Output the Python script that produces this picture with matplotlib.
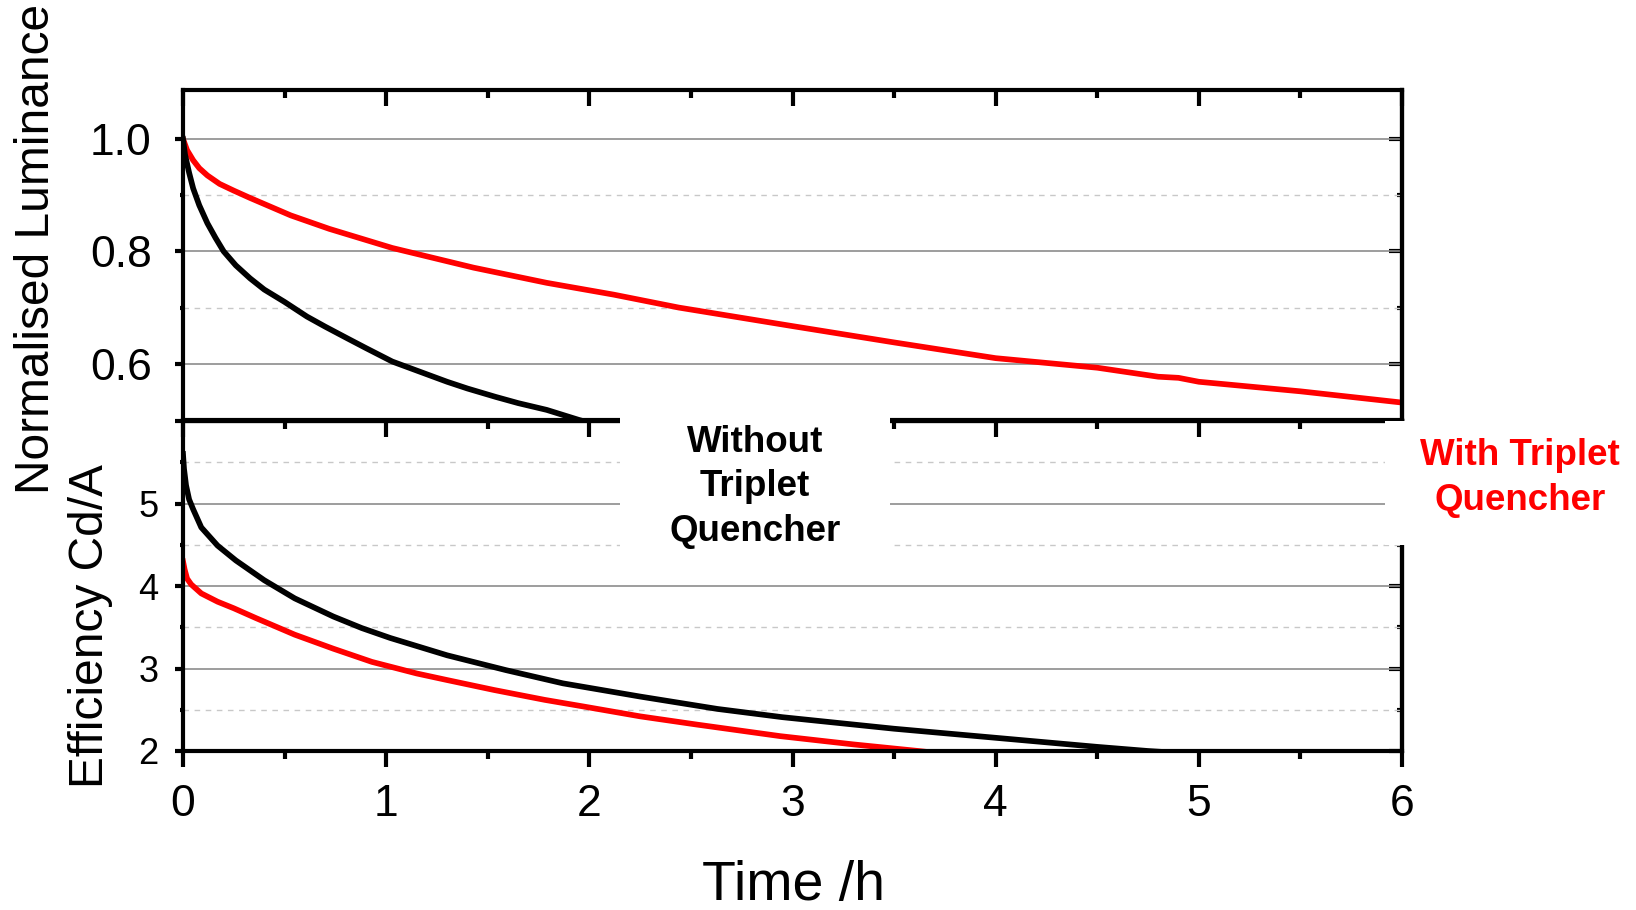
import numpy as np
import matplotlib
matplotlib.use('Agg')
import matplotlib.pyplot as plt
from matplotlib.patches import Rectangle
from matplotlib.ticker import MultipleLocator, FixedLocator

plt.rcParams['font.family'] = ['Liberation Sans', 'DejaVu Sans']

# Luminance decay (normalised) vs time in hours
t_lum_red = [0, 0.02, 0.05, 0.08, 0.12, 0.18, 0.25, 0.33, 0.53, 0.72, 1.03, 1.43, 1.79,
             2.12, 2.44, 3.0, 3.5, 4.0, 4.5, 4.8, 4.9, 5.0, 5.5, 6.0]
lum_red = [1.0, 0.98, 0.962, 0.948, 0.935, 0.92, 0.908, 0.895, 0.864, 0.84, 0.806, 0.771, 0.744,
           0.723, 0.70, 0.667, 0.638, 0.61, 0.593, 0.577, 0.575, 0.568, 0.551, 0.531]

t_lum_black = [0, 0.01, 0.03, 0.05, 0.08, 0.12, 0.16, 0.2, 0.26, 0.33, 0.4, 0.5, 0.61, 0.7,
               0.81, 0.9, 1.03, 1.15, 1.30, 1.4, 1.54, 1.65, 1.79, 1.95, 2.2]
lum_black = [1.0, 0.972, 0.94, 0.912, 0.882, 0.85, 0.824, 0.80, 0.775, 0.752, 0.732, 0.71, 0.684,
             0.666, 0.645, 0.628, 0.604, 0.588, 0.568, 0.556, 0.541, 0.53, 0.518, 0.50, 0.475]

# Current efficiency (Cd/A) vs time in hours
t_eff_black = [0, 0.005, 0.015, 0.03, 0.05, 0.09, 0.17, 0.26, 0.40, 0.55, 0.74, 0.88, 1.02,
               1.30, 1.59, 1.87, 2.25, 2.63, 2.95, 3.5, 4.0, 4.5, 4.75, 5.2]
eff_black = [5.6, 5.42, 5.22, 5.05, 4.93, 4.71, 4.49, 4.31, 4.07, 3.85, 3.63, 3.49, 3.37,
             3.16, 2.98, 2.82, 2.66, 2.51, 2.41, 2.27, 2.16, 2.05, 2.0, 1.93]

t_eff_red = [0, 0.008, 0.02, 0.04, 0.09, 0.17, 0.25, 0.36, 0.55, 0.74, 0.93, 1.15, 1.30, 1.53,
             1.78, 1.97, 2.25, 2.53, 2.94, 3.3, 3.62, 4.0]
eff_red = [4.3, 4.2, 4.09, 4.02, 3.91, 3.81, 3.73, 3.61, 3.41, 3.24, 3.08, 2.94, 2.86, 2.74,
           2.62, 2.54, 2.42, 2.32, 2.18, 2.08, 2.0, 1.9]

W, H = 1636, 910


def fx(px):
    return px / W


def fy(py):
    return 1 - py / H


fig = plt.figure(figsize=(W / 100, H / 100), dpi=100)

left, right = 183, 1402
ax_top = fig.add_axes([fx(left), fy(420), (right - left) / W, 330 / H])
ax_bot = fig.add_axes([fx(left), fy(751), (right - left) / W, 330 / H], sharex=ax_top)

spine_w = 3.0
tick_w = 3.0
line_w = 4.1

for ax in (ax_top, ax_bot):
    ax.set_xlim(0, 6)
    ax.xaxis.set_major_locator(MultipleLocator(1))
    ax.xaxis.set_minor_locator(MultipleLocator(0.5))
    for s in ax.spines.values():
        s.set_linewidth(spine_w)
    ax.set_axisbelow(True)
    ax.yaxis.grid(True, which='major', color='#8c8c8c', lw=1.2, ls='-')
    ax.yaxis.grid(True, which='minor', color='#c8c8c8', lw=1.0, ls=(0, (4, 4)))
    ax.tick_params(axis='y', which='both', left=True, right=False, direction='out', width=tick_w)
    ax.tick_params(axis='y', which='major', length=5.5)
    ax.tick_params(axis='y', which='minor', length=2.5)

# upper panel: luminance
ax_top.plot(t_lum_red, lum_red, color='#ff0000', lw=line_w, solid_joinstyle='round')
ax_top.plot(t_lum_black, lum_black, color='black', lw=line_w, solid_joinstyle='round')
ax_top.set_ylim(0.5, 1.087)
ax_top.yaxis.set_major_locator(FixedLocator([0.6, 0.8, 1.0]))
ax_top.yaxis.set_minor_locator(FixedLocator([0.7, 0.9]))
ax_top.set_yticklabels(['0.6', '0.8', '1.0'])
ax_top.tick_params(axis='y', which='major', labelsize=32, pad=17)
ax_top.tick_params(axis='x', which='both', top=True, bottom=False, labelbottom=False,
                   direction='in', width=tick_w)
ax_top.tick_params(axis='x', which='major', length=11.5)
ax_top.tick_params(axis='x', which='minor', length=5.8)

r_top = ax_top.secondary_yaxis('right')
r_top.yaxis.set_major_locator(FixedLocator([0.6, 0.8, 1.0]))
r_top.yaxis.set_minor_locator(FixedLocator([0.7, 0.9]))
r_top.tick_params(which='both', direction='in', labelright=False, width=tick_w)
r_top.tick_params(which='major', length=9.4)
r_top.tick_params(which='minor', length=3.6)
r_top.spines['right'].set_linewidth(spine_w)

# lower panel: efficiency
ax_bot.plot(t_eff_black, eff_black, color='black', lw=line_w, solid_joinstyle='round')
ax_bot.plot(t_eff_red, eff_red, color='#ff0000', lw=line_w, solid_joinstyle='round')
ax_bot.set_ylim(2, 6)
ax_bot.yaxis.set_major_locator(FixedLocator([2, 3, 4, 5, 6]))
ax_bot.yaxis.set_minor_locator(FixedLocator([2.5, 3.5, 4.5, 5.5]))
ax_bot.set_yticklabels(['2', '3', '4', '5', ''])
ax_bot.tick_params(axis='y', which='major', labelsize=26, pad=12)
ax_bot.tick_params(axis='x', which='both', direction='out', width=tick_w)
ax_bot.tick_params(axis='x', which='major', length=11.5, labelsize=32, pad=12)
ax_bot.tick_params(axis='x', which='minor', length=5.8)

t_bot = ax_bot.secondary_xaxis('top')
t_bot.xaxis.set_major_locator(MultipleLocator(1))
t_bot.xaxis.set_minor_locator(MultipleLocator(0.5))
t_bot.tick_params(which='both', direction='in', labeltop=False, width=tick_w)
t_bot.tick_params(which='major', length=11.5)
t_bot.tick_params(which='minor', length=5.8)
t_bot.spines['top'].set_linewidth(spine_w)

r_bot = ax_bot.secondary_yaxis('right')
r_bot.yaxis.set_major_locator(FixedLocator([2, 3, 4, 5, 6]))
r_bot.yaxis.set_minor_locator(FixedLocator([2.5, 3.5, 4.5, 5.5]))
r_bot.tick_params(which='both', direction='in', labelright=False, width=tick_w)
r_bot.tick_params(which='major', length=9.4)
r_bot.tick_params(which='minor', length=3.6)
r_bot.spines['right'].set_linewidth(spine_w)

# axis titles
fig.text(fx(37), fy(249), 'Normalised Luminance', rotation=90, ha='center', va='center', fontsize=34.5)
fig.text(fx(91), fy(626), 'Efficiency Cd/A', rotation=90, ha='center', va='center', fontsize=34.5)
fig.text(fx(793), fy(900), 'Time /h', ha='center', va='baseline', fontsize=40)

# white label panels over the plots
fig.add_artist(Rectangle((fx(620), fy(560)), (890 - 620) / W, (560 - 405) / H,
                         transform=fig.transFigure, facecolor='white', edgecolor='none', zorder=5))
fig.add_artist(Rectangle((fx(1385), fy(545)), (W - 1385) / W, (545 - 421) / H,
                         transform=fig.transFigure, facecolor='white', edgecolor='none', zorder=5))

fig.text(fx(755), fy(487), 'Without\nTriplet\nQuencher', ha='center', va='center',
         multialignment='center', fontsize=26.5, fontweight='bold', linespacing=1.37, zorder=6)
fig.text(fx(1520), fy(478), 'With Triplet\nQuencher', ha='center', va='center',
         multialignment='center', fontsize=26.5, fontweight='bold', color='#ff0000',
         linespacing=1.37, zorder=6)

fig.savefig('out.png', dpi=100)
